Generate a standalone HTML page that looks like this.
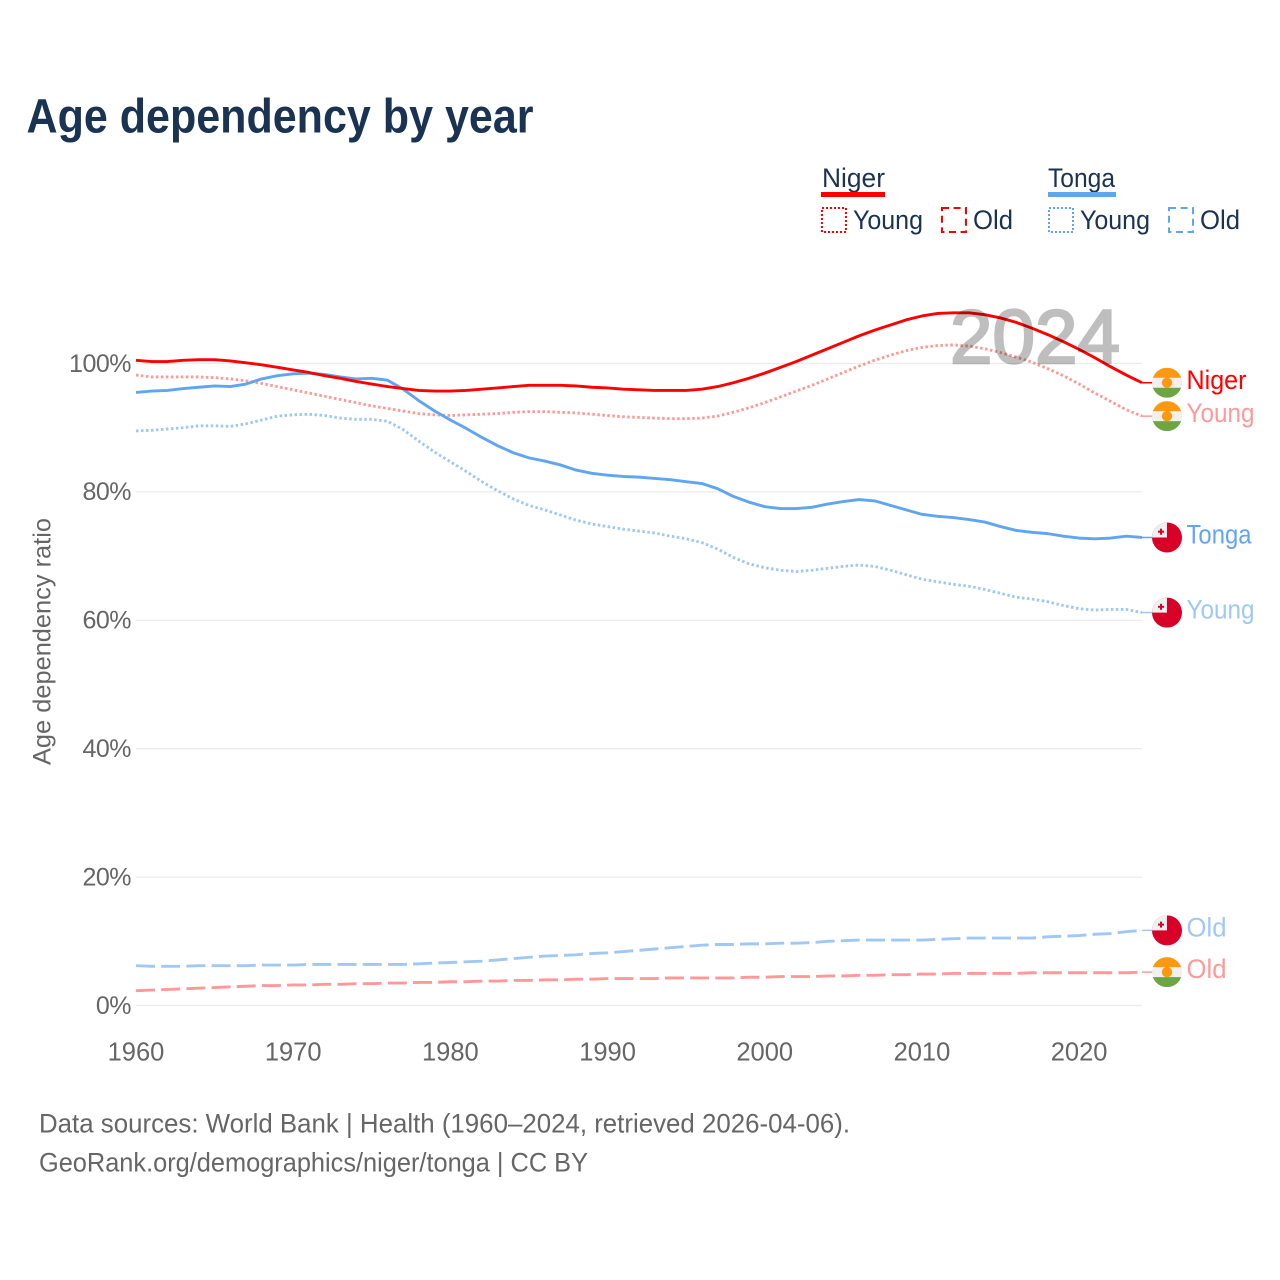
<!DOCTYPE html>
<html lang="en">
<head>
<meta charset="utf-8">
<title>Age dependency by year</title>
<style>
html,body{margin:0;padding:0;background:#fff;}
svg{display:block;font-family:"Liberation Sans",sans-serif;}
.tick{font-size:25px;fill:#666;}
.leg{font-size:27px;fill:#1a3352;}
.end{font-size:27px;}
</style>
</head>
<body>
<svg id="chart" xmlns="http://www.w3.org/2000/svg" width="1280" height="1280" viewBox="0 0 1280 1280">
  <defs>
    <clipPath id="flag-clip"><circle cx="0" cy="0" r="15"/></clipPath>
    <g id="flag-niger" clip-path="url(#flag-clip)">
      <rect x="-15" y="-15" width="30" height="30" fill="#f0f0f0"/>
      <rect x="-15" y="-15" width="30" height="10" fill="#ff9811"/>
      <rect x="-15" y="5" width="30" height="10" fill="#6da544"/>
      <circle r="5.2" fill="#ff9811"/>
    </g>
    <g id="flag-tonga" clip-path="url(#flag-clip)">
      <rect x="-15" y="-15" width="30" height="30" fill="#d80027"/>
      <rect x="-15" y="-15" width="15" height="15" fill="#f0f0f0"/>
      <rect x="-7" y="-8.8" width="2" height="6" fill="#d80027"/>
      <rect x="-9" y="-6.8" width="6" height="2" fill="#d80027"/>
    </g>
  </defs>
  <rect width="1280" height="1280" fill="#fff"/>
  <text x="26.5" y="132.5" font-size="48" font-weight="700" fill="#1a3352" textLength="507" lengthAdjust="spacingAndGlyphs">Age dependency by year</text>

  <g>
    <g>
      <text class="leg" x="822" y="187" textLength="63" lengthAdjust="spacingAndGlyphs">Niger</text>
      <rect x="821" y="192" width="64" height="5" fill="#ff0000"/>
      <rect x="822" y="208" width="24" height="24" fill="none" stroke="#ff0000" stroke-width="2" stroke-dasharray="2 2"/>
      <text class="leg" x="853" y="229" textLength="70" lengthAdjust="spacingAndGlyphs">Young</text>
      <rect x="942" y="208" width="24" height="24" fill="none" stroke="#ff0000" stroke-width="2" stroke-dasharray="7 4.6"/>
      <text class="leg" x="973" y="229" textLength="40" lengthAdjust="spacingAndGlyphs">Old</text>
    </g>
    <g>
      <text class="leg" x="1048" y="187" textLength="67" lengthAdjust="spacingAndGlyphs">Tonga</text>
      <rect x="1048" y="192" width="68" height="5" fill="#60a5f0"/>
      <rect x="1049" y="208" width="24" height="24" fill="none" stroke="#60a5f0" stroke-width="2" stroke-dasharray="2 2"/>
      <text class="leg" x="1080" y="229" textLength="70" lengthAdjust="spacingAndGlyphs">Young</text>
      <rect x="1169" y="208" width="24" height="24" fill="none" stroke="#60a5f0" stroke-width="2" stroke-dasharray="7 4.6"/>
      <text class="leg" x="1200" y="229" textLength="40" lengthAdjust="spacingAndGlyphs">Old</text>
    </g>
  </g>

  <g id="grid"></g>
  <g id="y-axis"></g>
  <g id="x-axis"></g>
  <text transform="translate(50.5,765) rotate(-90)" font-size="25" fill="#666" textLength="247" lengthAdjust="spacingAndGlyphs">Age dependency ratio</text>
  <g id="series"></g>
  <g id="ends"></g>
  <text x="950" y="363" font-size="76" font-weight="400" fill="#000" stroke="#000" stroke-width="2.4" opacity="0.25" textLength="170" lengthAdjust="spacingAndGlyphs">2024</text>

  <text x="39" y="1132.5" font-size="26.5" fill="#666" textLength="811" lengthAdjust="spacingAndGlyphs">Data sources: World Bank | Health (1960–2024, retrieved 2026-04-06).</text>
  <text x="39" y="1171.5" font-size="26.5" fill="#666" textLength="549" lengthAdjust="spacingAndGlyphs">GeoRank.org/demographics/niger/tonga | CC BY</text>
</svg>
<script>
const years = [1960,1961,1962,1963,1964,1965,1966,1967,1968,1969,1970,1971,1972,1973,1974,1975,1976,1977,1978,1979,1980,1981,1982,1983,1984,1985,1986,1987,1988,1989,1990,1991,1992,1993,1994,1995,1996,1997,1998,1999,2000,2001,2002,2003,2004,2005,2006,2007,2008,2009,2010,2011,2012,2013,2014,2015,2016,2017,2018,2019,2020,2021,2022,2023,2024];
const xTickValues = [1960,1970,1980,1990,2000,2010,2020];
const yTickValues = [0,20,40,60,80,100];
const nigerTotal = [100.5,100.3,100.3,100.5,100.6,100.6,100.4,100.1,99.8,99.4,99.0,98.6,98.1,97.7,97.2,96.8,96.4,96.1,95.8,95.7,95.7,95.8,96.0,96.2,96.4,96.6,96.6,96.6,96.5,96.3,96.2,96.0,95.9,95.8,95.8,95.8,96.0,96.4,97.0,97.7,98.5,99.4,100.3,101.3,102.3,103.3,104.3,105.2,106.0,106.8,107.4,107.8,107.9,107.9,107.6,107.1,106.4,105.5,104.5,103.4,102.2,100.9,99.5,98.2,97.0];
const nigerYoung = [98.2,97.9,97.9,97.9,97.9,97.8,97.6,97.3,96.9,96.4,95.9,95.4,94.9,94.4,93.9,93.4,93.0,92.6,92.2,92.0,91.9,92.0,92.1,92.2,92.4,92.5,92.5,92.4,92.3,92.1,91.9,91.7,91.6,91.5,91.4,91.4,91.5,91.8,92.4,93.1,93.9,94.8,95.7,96.6,97.6,98.6,99.6,100.5,101.3,102.0,102.5,102.8,102.9,102.7,102.3,101.7,101.0,100.2,99.2,98.1,96.8,95.4,94.1,92.8,91.8];
const nigerOld = [2.3,2.4,2.5,2.6,2.7,2.8,2.9,3.0,3.1,3.1,3.2,3.2,3.3,3.3,3.4,3.4,3.5,3.5,3.6,3.6,3.7,3.7,3.8,3.8,3.9,3.9,4.0,4.0,4.1,4.1,4.2,4.2,4.2,4.2,4.3,4.3,4.3,4.3,4.3,4.4,4.4,4.5,4.5,4.5,4.6,4.6,4.7,4.7,4.8,4.8,4.9,4.9,5.0,5.0,5.0,5.0,5.0,5.1,5.1,5.1,5.1,5.1,5.1,5.1,5.2];
const tongaTotal = [95.5,95.7,95.8,96.1,96.3,96.5,96.4,96.8,97.6,98.1,98.4,98.5,98.3,97.9,97.6,97.7,97.4,96.0,94.2,92.6,91.2,89.9,88.5,87.2,86.1,85.3,84.8,84.2,83.4,82.9,82.6,82.4,82.3,82.1,81.9,81.6,81.3,80.5,79.3,78.4,77.7,77.4,77.4,77.6,78.1,78.5,78.8,78.6,77.9,77.2,76.5,76.2,76.0,75.7,75.3,74.6,74.0,73.7,73.5,73.1,72.8,72.7,72.8,73.1,72.9];
const tongaYoung = [89.5,89.6,89.8,90.0,90.3,90.3,90.2,90.6,91.2,91.8,92.0,92.1,91.9,91.5,91.3,91.3,91.0,89.7,87.9,86.2,84.7,83.2,81.6,80.2,78.9,77.9,77.2,76.4,75.6,75.0,74.6,74.2,73.9,73.6,73.1,72.7,72.1,71.1,69.8,68.8,68.2,67.8,67.6,67.8,68.1,68.4,68.6,68.4,67.8,67.1,66.4,66.0,65.6,65.3,64.8,64.2,63.6,63.3,62.9,62.3,61.8,61.6,61.7,61.7,61.2];
const tongaOld = [6.2,6.1,6.1,6.1,6.2,6.2,6.2,6.2,6.3,6.3,6.3,6.4,6.4,6.4,6.4,6.4,6.4,6.4,6.5,6.6,6.7,6.8,6.9,7.1,7.3,7.5,7.7,7.8,7.9,8.1,8.2,8.4,8.6,8.8,9.0,9.2,9.4,9.5,9.5,9.6,9.6,9.7,9.7,9.8,10.0,10.1,10.2,10.2,10.2,10.2,10.2,10.3,10.4,10.5,10.5,10.5,10.5,10.5,10.7,10.8,10.9,11.1,11.2,11.5,11.7];

const NS = 'http://www.w3.org/2000/svg';
function xScale(year) { return 136 + (year - 1960) * (1142 - 136) / (2024 - 1960); }
function yScale(pct) { return 1005.5 - pct * 6.42; }
function make(tag, parentId, attrs) {
  const el = document.createElementNS(NS, tag);
  for (const k in attrs) el.setAttribute(k, attrs[k]);
  document.getElementById(parentId).appendChild(el);
  return el;
}

yTickValues.forEach(function (v) {
  const line = make('line', 'grid', {x1: 136, x2: 1142, y1: yScale(v), y2: yScale(v), stroke: '#ececec', 'stroke-width': 1.3});
  
  
  const label = make('text', 'y-axis', {x: 131, y: yScale(v) + 8.3, 'text-anchor': 'end', class: 'tick', 'letter-spacing': '-0.5'});
  label.textContent = v + '%';
  
  
});

xTickValues.forEach(function (v) {
  const label = make('text', 'x-axis', {x: xScale(v), y: 1060.4, 'text-anchor': 'middle', class: 'tick', style: 'font-size:25.5px'});
  label.textContent = v;
  
  
});

function drawSeries(name, values, color, dash, flagId, text, textLen) {
  const d = values.map(function (v, i) {
    return (i ? 'L' : 'M') + xScale(years[i]).toFixed(2) + ' ' + yScale(v).toFixed(2);
  }).join(' ');
  const path = make('path', 'series', {d: d, fill: 'none', stroke: color, 'stroke-width': 2.9, 'stroke-linejoin': 'round'});
  if (dash) path.setAttribute('stroke-dasharray', dash);
  
  

  const lastValue = values[values.length - 1];
  const endY = yScale(lastValue);
  const tail = make('line', 'series', {x1: xScale(2024), x2: 1153, y1: endY, y2: endY, stroke: color, 'stroke-width': 1.5});
  
  

  const flag = make('use', 'ends', {href: '#' + flagId, transform: 'translate(1167,' + endY.toFixed(2) + ')'});
  
  

  const label = make('text', 'ends', {x: 1186.5, y: endY + 6, fill: color, class: 'end', textLength: textLen, lengthAdjust: 'spacingAndGlyphs'});
  label.textContent = text;
  
  
}

drawSeries('niger-old', nigerOld, '#ff9999', '19 6.2', 'flag-niger', 'Old', 40);
drawSeries('tonga-old', tongaOld, '#a0c8f5', '19 6.2', 'flag-tonga', 'Old', 40);
drawSeries('tonga-young', tongaYoung, '#a0c8f5', '2.5 2.5', 'flag-tonga', 'Young', 68);
drawSeries('niger-young', nigerYoung, '#ff9999', '2.5 2.5', 'flag-niger', 'Young', 68);
drawSeries('tonga-total', tongaTotal, '#60a5f0', null, 'flag-tonga', 'Tonga', 65);
drawSeries('niger-total', nigerTotal, '#ff0000', null, 'flag-niger', 'Niger', 60);
</script>
</body>
</html>
